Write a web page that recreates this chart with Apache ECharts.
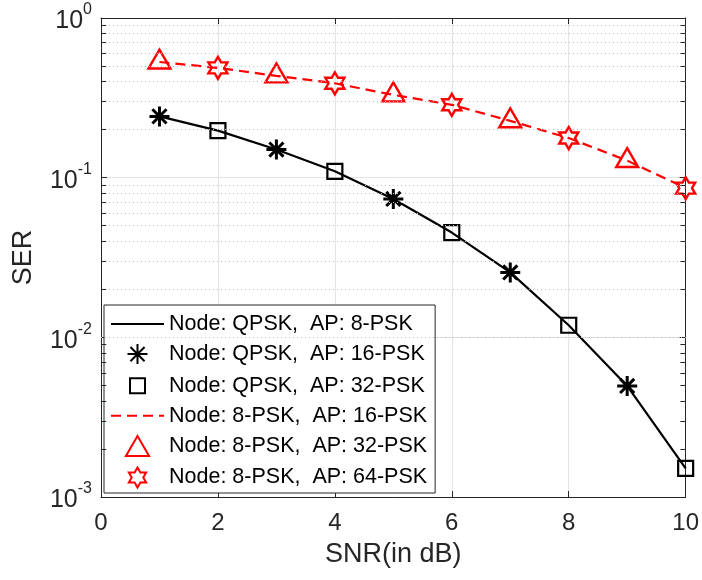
<!DOCTYPE html>
<html><head><meta charset="utf-8">
<script src="https://cdn.jsdelivr.net/npm/echarts@6/dist/echarts.min.js"></script>
<style>html,body{margin:0;padding:0;background:#fff}#c{width:702px;height:580px}</style>
</head><body><div id="c"></div>
<script>
// ---- data ----
const snr = [1, 2, 3, 4, 5, 6, 7, 8, 9, 10];
const serQPSK = [0.242, 0.197, 0.150, 0.1096, 0.0736, 0.0453, 0.0255, 0.0119, 0.00496, 0.00151];
const ser8PSK = [0.530, 0.487, 0.434, 0.390, 0.330, 0.286, 0.227, 0.177, 0.128, 0.086];
const seriesNames = [
  'Node: QPSK,  AP: 8-PSK',
  'Node: QPSK,  AP: 16-PSK',
  'Node: QPSK,  AP: 32-PSK',
  'Node: 8-PSK,  AP: 16-PSK',
  'Node: 8-PSK,  AP: 32-PSK',
  'Node: 8-PSK,  AP: 64-PSK'
];
const minorMult = [2, 3, 4, 5, 6, 7, 8, 9];

// ---- helpers ----
const pairs = (ys) => snr.map((x, i) => [x, ys[i]]);
const oddPts = (ys) => pairs(ys).filter(p => p[0] % 2 === 1);
const evenPts = (ys) => pairs(ys).filter(p => p[0] % 2 === 0);

const minorVals = [];
[0.001, 0.01, 0.1].forEach(d => minorMult.forEach(m => minorVals.push(+(d * m).toPrecision(3))));
const gridMinor = minorVals.map(v => ({ yAxis: v }));
const tickMinor = [];
minorVals.forEach(v => {
  tickMinor.push([{ coord: [0, v] }, { coord: [0.09, v] }]);
  tickMinor.push([{ coord: [9.91, v] }, { coord: [10, v] }]);
});

const BLACK = '#000000', RED = '#ff0000', AX = '#262626';
const FONT = '"Liberation Sans", Arial, Helvetica, sans-serif';

const asterisk = 'path://M0,-10L0,10M-10,0L10,0M-7.07,-7.07L7.07,7.07M-7.07,7.07L7.07,-7.07';
const hexagram = 'path://M0,-10L2.887,-5L8.66,-5L5.774,0L8.66,5L2.887,5L0,10L-2.887,5L-8.66,5L-5.774,0L-8.66,-5L-2.887,-5Z';
const square = 'path://M-10,-10M10,10M-7.5,-7.5L7.5,-7.5L7.5,7.5L-7.5,7.5Z';
const triangle = 'path://M0,-9.5L11,9.5L-11,9.5Z';

const hiddenDot = { opacity: 0 };

const chart = echarts.init(document.getElementById('c'), null, { renderer: 'canvas' });
const option = {
  animation: false,
  backgroundColor: '#fff',
  textStyle: { fontFamily: FONT },
  grid: { left: 101, right: 14, top: 18, bottom: 83, containLabel: false },
  xAxis: [{
    type: 'value', min: 0, max: 10, interval: 2,
    name: 'SNR(in dB)', nameLocation: 'middle', nameGap: 44,
    nameTextStyle: { fontSize: 27, color: AX, fontFamily: FONT },
    axisLine: { show: true, onZero: false, lineStyle: { color: AX, width: 1 } },
    axisTick: { show: true, inside: true, length: 6, lineStyle: { color: AX } },
    axisLabel: { fontSize: 24, color: AX, margin: 14, fontFamily: FONT },
    splitLine: { show: true, lineStyle: { color: '#e3e3e3', width: 1 } }
  }, {
    type: 'value', min: 0, max: 10, interval: 2, position: 'top',
    axisLine: { show: true, onZero: false, lineStyle: { color: AX, width: 1 } },
    axisTick: { show: true, inside: true, length: 6, lineStyle: { color: AX } },
    axisLabel: { show: false }, splitLine: { show: false }
  }],
  yAxis: [{
    type: 'log', logBase: 10, min: 0.001, max: 1,
    name: 'SER', nameLocation: 'middle', nameGap: 64, nameRotate: 90,
    nameTextStyle: { fontSize: 27, color: AX, fontFamily: FONT },
    axisLine: { show: true, onZero: false, lineStyle: { color: AX, width: 1 } },
    axisTick: { show: true, inside: true, length: 6, lineStyle: { color: AX } },
    axisLabel: {
      color: AX, margin: 9, fontFamily: FONT,
      formatter: (v) => '{b|10}{s|' + Math.round(Math.log10(v)) + '}',
      rich: {
        b: { fontSize: 25, color: AX, fontFamily: FONT, lineHeight: 32, verticalAlign: 'bottom' },
        s: { fontSize: 16, color: AX, fontFamily: FONT, lineHeight: 32, verticalAlign: 'top' }
      }
    },
    splitLine: { show: true, lineStyle: { color: '#e3e3e3', width: 1 } }
  }, {
    type: 'log', logBase: 10, min: 0.001, max: 1, position: 'right',
    axisLine: { show: true, onZero: false, lineStyle: { color: AX, width: 1 } },
    axisTick: { show: true, inside: true, length: 6, lineStyle: { color: AX } },
    axisLabel: { show: false }, splitLine: { show: false }
  }],
  legend: {
    orient: 'vertical', left: 104, top: 305,
    padding: [8, 8, 3, 6],
    itemWidth: 53, itemHeight: 20, itemGap: 6.6,
    backgroundColor: '#ffffff', borderColor: AX, borderWidth: 1, borderRadius: 0,
    textStyle: { fontSize: 21.5, color: '#000', fontFamily: FONT },
    data: [
      { name: seriesNames[0], itemStyle: hiddenDot },
      { name: seriesNames[1] },
      { name: seriesNames[2] },
      { name: seriesNames[3], itemStyle: hiddenDot },
      { name: seriesNames[4] },
      { name: seriesNames[5] }
    ],
    selectedMode: false
  },
  series: [
    {
      name: seriesNames[0], type: 'line', data: pairs(serQPSK), symbol: 'none', z: 3,
      lineStyle: { color: BLACK, width: 2.2 }, itemStyle: { color: BLACK },
      markLine: {
        silent: true, symbol: ['none', 'none'], label: { show: false }, animation: false,
        lineStyle: { color: '#bdbdbd', type: [1, 3], width: 1 },
        data: gridMinor
      }
    },
    {
      name: seriesNames[1], type: 'scatter', data: oddPts(serQPSK), z: 4,
      symbol: asterisk, symbolSize: 20, symbolKeepAspect: true,
      itemStyle: { color: 'none', borderColor: BLACK, borderWidth: 3, opacity: 1 },
      markLine: {
        silent: true, symbol: ['none', 'none'], label: { show: false }, animation: false,
        lineStyle: { color: AX, type: 'solid', width: 1 },
        data: tickMinor
      }
    },
    {
      name: seriesNames[2], type: 'scatter', data: evenPts(serQPSK), z: 4,
      symbol: square, symbolSize: 20, symbolKeepAspect: true,
      itemStyle: { color: 'none', borderColor: BLACK, borderWidth: 2.2, opacity: 1 }
    },
    {
      name: seriesNames[3], type: 'line', data: pairs(ser8PSK), symbol: 'none', z: 3,
      lineStyle: { color: RED, width: 2.2, type: [10, 6] }, itemStyle: { color: RED }
    },
    {
      name: seriesNames[4], type: 'scatter', data: oddPts(ser8PSK), z: 4,
      symbol: triangle, symbolSize: 22, symbolKeepAspect: true, symbolOffset: [0, -3],
      itemStyle: { color: 'none', borderColor: RED, borderWidth: 2.4, opacity: 1 }
    },
    {
      name: seriesNames[5], type: 'scatter', data: evenPts(ser8PSK), z: 4,
      symbol: hexagram, symbolSize: 22, symbolKeepAspect: true,
      itemStyle: { color: 'none', borderColor: RED, borderWidth: 2.4, opacity: 1 }
    }
  ]
};
chart.setOption(option);
</script></body></html>
